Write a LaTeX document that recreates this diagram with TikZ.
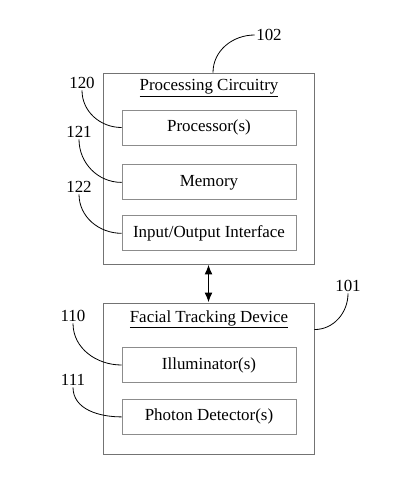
\documentclass[tikz,border=0pt]{standalone}
\usepackage{fontspec}
\setmainfont{Liberation Serif}
\usetikzlibrary{arrows.meta,positioning}
\tikzset{
  outerbox/.style={
    draw=black!55,
    line width=0.9bp,
    minimum width=211bp,
    inner sep=0pt
  },
  partbox/.style={
    draw=black!45,
    line width=0.9bp,
    minimum width=174bp,
    minimum height=35bp,
    inner sep=0pt,
    font=\fontsize{17}{20}\selectfont
  },
  boxtitle/.style={font=\fontsize{17}{20}\selectfont, inner sep=1bp},
  reflabel/.style={font=\fontsize{17}{20}\selectfont, inner sep=1.5bp},
  leader/.style={line width=0.8bp, black},
  linkarrow/.style={{Latex[length=10bp,width=8bp]}-{Latex[length=10bp,width=8bp]}, line width=1.6bp}
}
\begin{document}
\begin{tikzpicture}[x=1bp,y=-1bp]
  \useasboundingbox (0,0) rectangle (402,478);
  % processing side
  \node[outerbox, minimum height=191bp] (pc) at (208.5,168.5) {};
  \node[boxtitle] (pctitle) at (209,88) {\underline{Processing Circuitry}};
  \node[partbox] (proc) at (209,127.5) {Processor(s)};
  \node[partbox, below=19bp of proc] (mem) {Memory};
  \node[partbox, below=15bp of mem] (io) {Input/Output Interface};
  % facial tracking side
  \node[outerbox, minimum height=151bp] (ftd) at (208.5,378.5) {};
  \node[boxtitle] (ftdtitle) at (209,319) {\underline{Facial Tracking Device}};
  \node[partbox] (illum) at (209,365) {Illuminator(s)};
  \node[partbox, below=16bp of illum] (photon) {Photon Detector(s)};
  % link
  \draw[linkarrow] (pc.south) -- (ftd.north);
  % reference numerals
  \node[reflabel] (n102) at (269,35) {102};
  \node[reflabel] (n120) at (82,83) {120};
  \node[reflabel] (n121) at (79,132) {121};
  \node[reflabel] (n122) at (79,187) {122};
  \node[reflabel] (n101) at (348,286) {101};
  \node[reflabel] (n110) at (73,316) {110};
  \node[reflabel] (n111) at (73,380) {111};
  \coordinate (pctop) at ([xshift=4.5bp]pc.north);
  \coordinate (ftdright) at ([yshift=-27bp]ftd.north east);
  \draw[leader] (pctop) to[out=90,in=180] (n102.west);
  \draw[leader] (n120.south) to[out=-90,in=180] (proc.west);
  \draw[leader] (n121.south) to[out=-90,in=180] (mem.west);
  \draw[leader] (n122.south) to[out=-90,in=180] (io.west);
  \draw[leader] (ftdright) to[out=0,in=-90] (n101.south);
  \draw[leader] (n110.south) to[out=-90,in=180] (illum.west);
  \draw[leader] (n111.south) to[out=-90,in=180] (photon.west);
\end{tikzpicture}
\end{document}
